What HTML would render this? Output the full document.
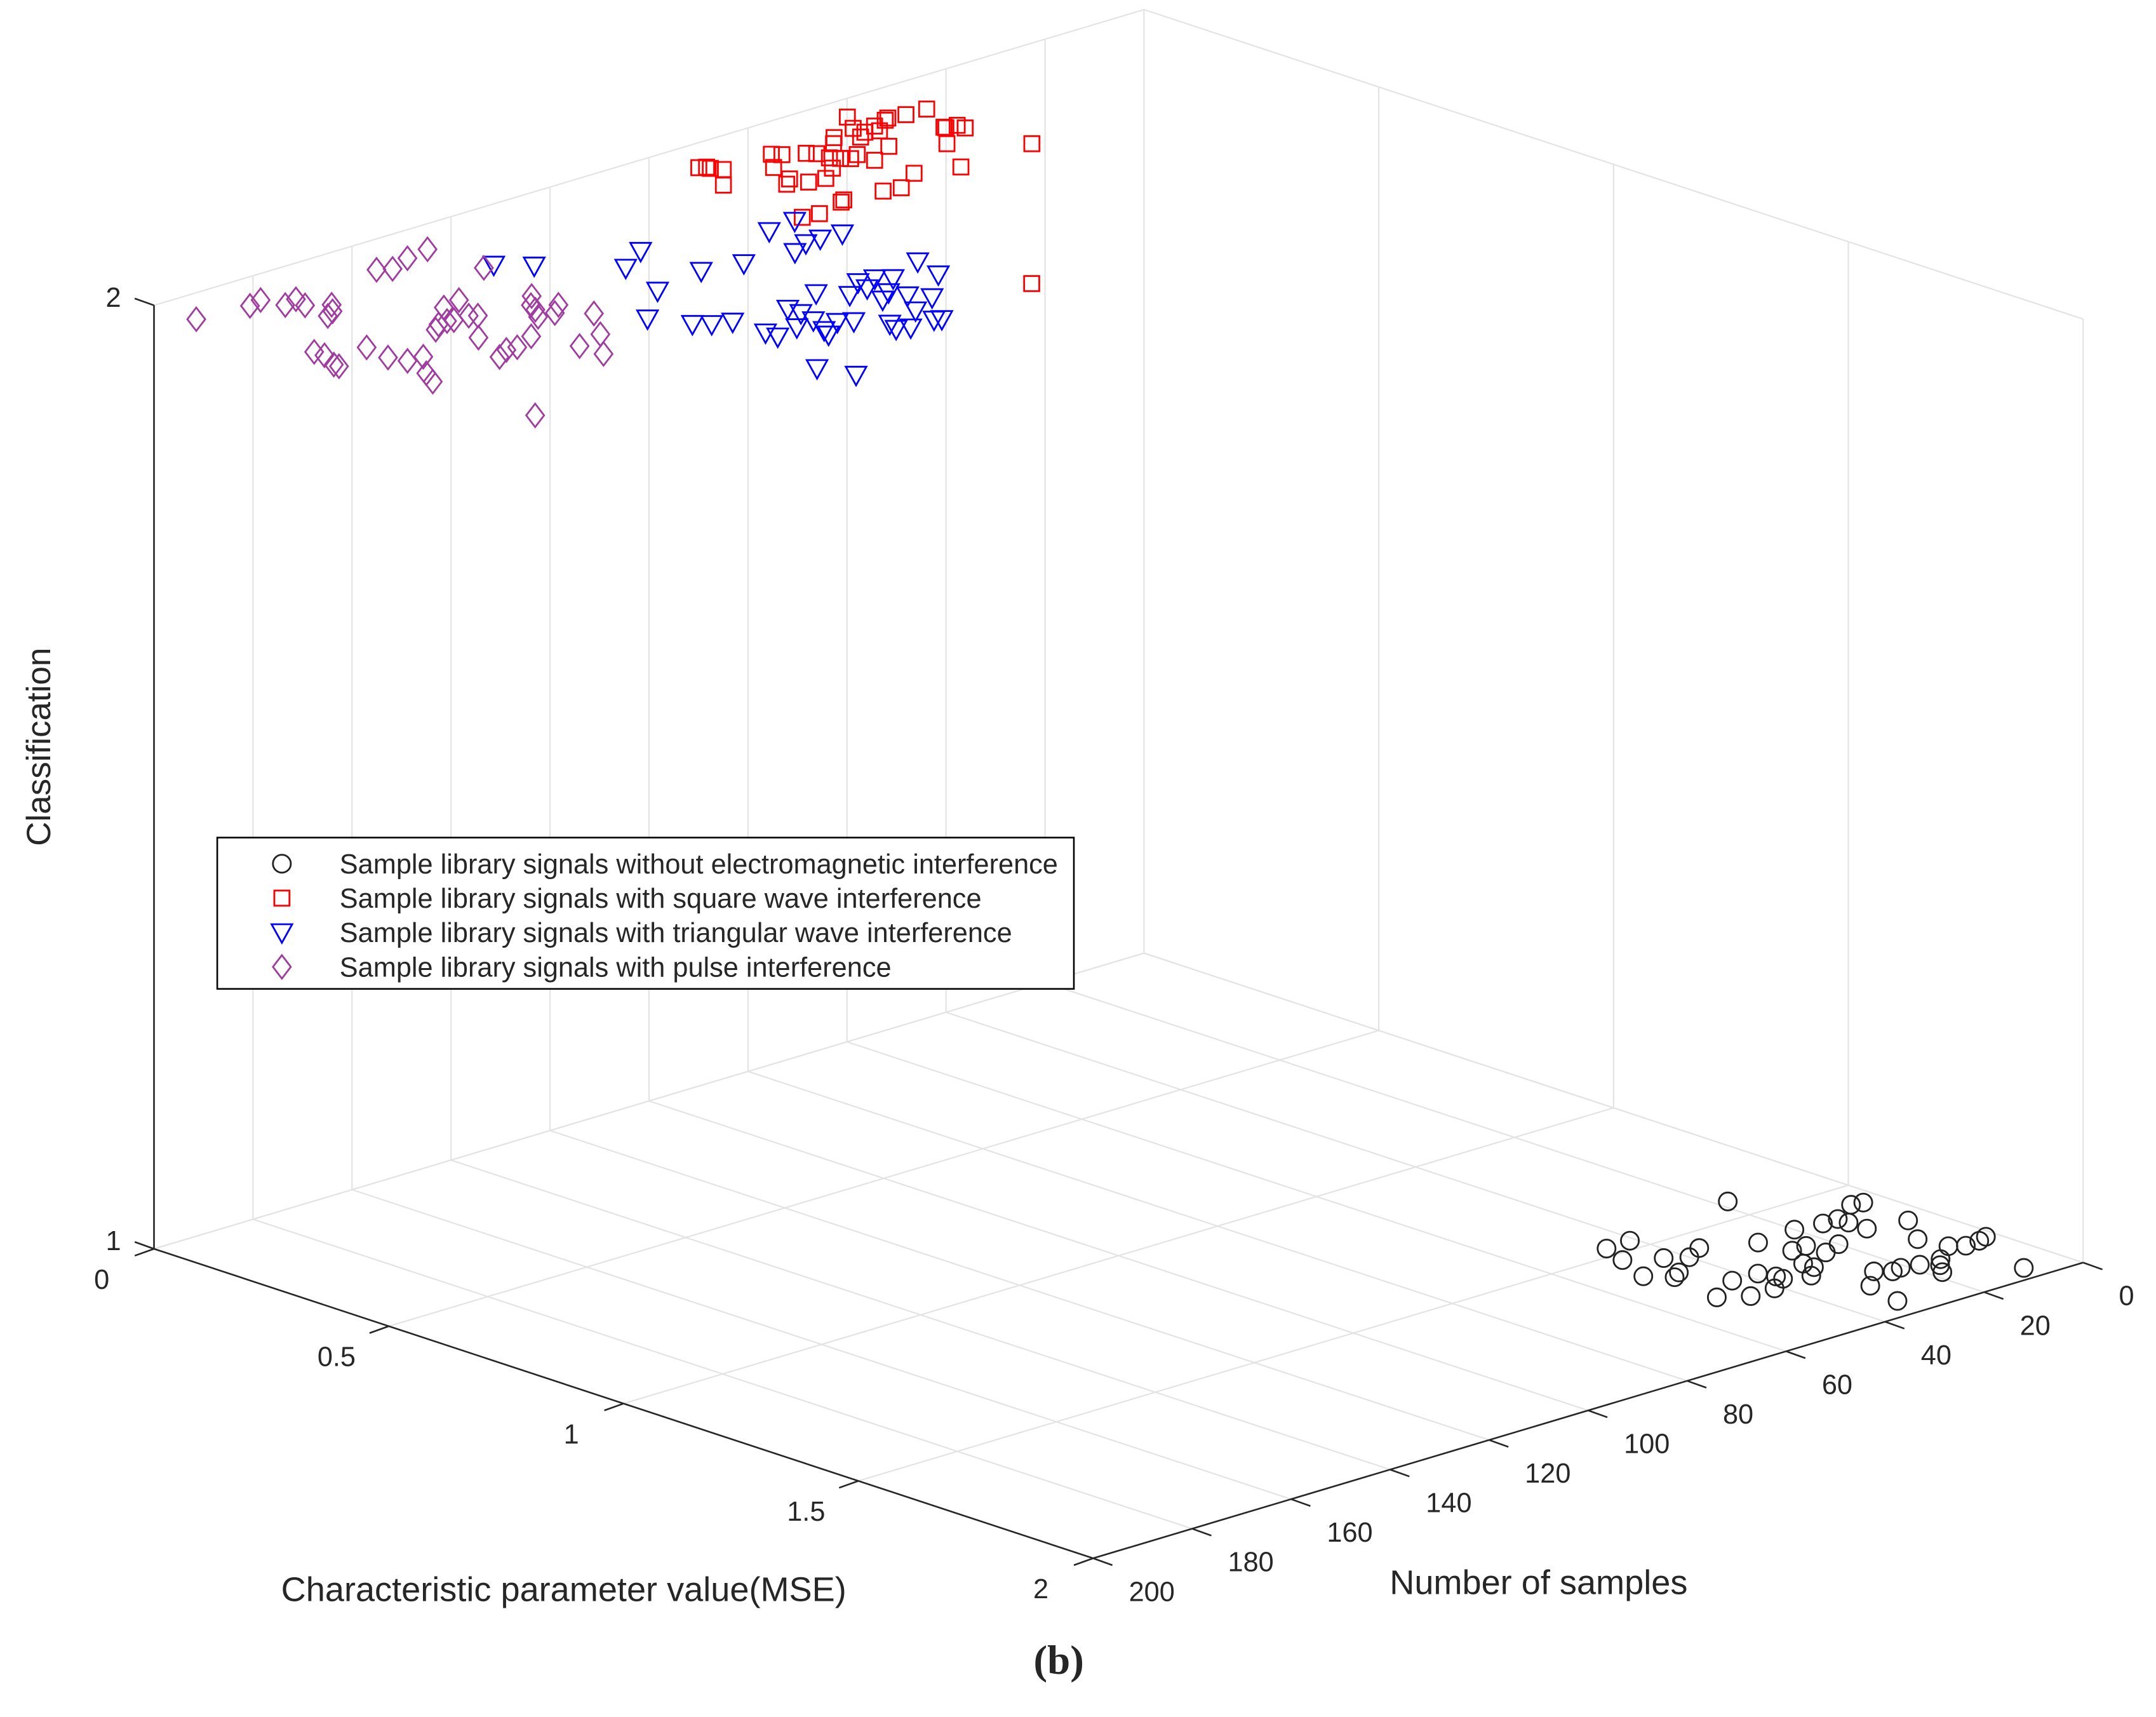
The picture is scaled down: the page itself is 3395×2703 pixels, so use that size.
<!DOCTYPE html>
<html><head><meta charset="utf-8"><title>3D scatter - classification</title>
<style>
html,body{margin:0;padding:0;background:#fff;}
svg{display:block;}
text{font-family:"Liberation Sans",Arial,sans-serif;fill:#262626;}
</style></head>
<body>
<svg id="chart" width="3395" height="2703" viewBox="0 0 1568 1248.4" xmlns="http://www.w3.org/2000/svg">
<rect x="0" y="0" width="1568" height="1248.4" fill="#fff"/>
<g id="grid"></g>
<g id="axes"></g>
<g id="marks"></g>
<text x="30" y="543" font-size="24.5" text-anchor="middle" transform="rotate(-90 30 543)" dominant-baseline="middle">Classification</text>
<text x="410" y="1164" font-size="25" text-anchor="middle">Characteristic parameter value(MSE)</text>
<text x="1119" y="1159" font-size="25" text-anchor="middle">Number of samples</text>
<text x="770" y="1217" font-size="30" font-weight="bold" text-anchor="middle" style="font-family:'Liberation Serif',serif">(b)</text>
<g id="legend">
<rect x="158" y="609" width="623" height="110" fill="#fff" stroke="#000" stroke-width="1.2"/>
</g>
</svg>
<script>
// ---- data (MSE, sample index, class) ----
const seriesNames = ["Sample library signals without electromagnetic interference","Sample library signals with square wave interference","Sample library signals with triangular wave interference","Sample library signals with pulse interference"];
const seriesClass = [1, 2, 2, 2];
const mseBlack = [1.470,1.467,1.525,1.601,1.560,1.636,1.624,1.583,1.562,1.747,1.433,1.706,1.777,1.708,1.603,1.775,1.736,1.751,1.665,1.596,1.720,1.663,1.769,1.743,1.604,1.705,1.604,1.690,1.569,1.627,1.574,1.666,1.863,1.818,1.837,1.942,1.833,1.680,1.753,1.842,1.864,1.844,1.808,1.890,1.824,1.821,1.814,1.958];
const nBlack = [46,41,48,51,43,48,46,40,36,50,18,43,46,38,28,41,37,37,27,20,30,24,33,30,15,24,12,20,6,12,4,12,30,25,23,32,21,5,10,18,16,14,9,18,7,4,2,8];
const mseRed = [0.341,0.815,0.220,0.348,0.203,0.200,0.196,0.255,0.117,0.115,0.108,0.113,0.133,0.122,0.145,0.208,0.120,0.140,0.157,0.145,0.125,0.113,0.160,0.215,0.245,0.250,0.222,0.341,0.346,0.363,0.358,0.351,0.358,0.322,0.238,0.201,0.205,0.085,0.091,0.099,0.116,0.169,0.230,0.064,0.184,0.197,0.108,0.143];
const nRed = [55,100,57,70,57,59,59,64,55,59,62,63,69,66,71,79,74,76,81,82,85,86,90,92,91,88,84,93,94,100,103,86,83,77,77,77,71,98,97,97,96,101,94,66,81,80,69,67];
const mseBlue = [0.207,0.251,0.351,0.309,0.461,0.438,0.455,0.372,0.363,0.469,0.450,0.449,0.454,0.545,0.609,0.629,0.642,0.712,0.654,0.682,0.719,0.630,0.783,0.749,0.670,0.763,0.635,0.665,0.639,0.657,0.730,0.625,0.690,0.761,0.789,0.839,0.845,0.832,0.808,0.842,0.885,0.947,0.738,0.726,0.763,0.700,0.719];
const nBlue = [151,147,138,131,142,131,124,111,105,115,111,108,104,152,149,147,144,144,134,134,135,126,138,133,123,131,118,119,115,113,117,105,107,115,121,122,121,129,128,127,150,148,144,139,137,118,121];
const msePurple = [0.090,0.099,0.090,0.132,0.123,0.153,0.178,0.212,0.201,0.320,0.342,0.383,0.394,0.358,0.414,0.445,0.447,0.506,0.541,0.105,0.118,0.087,0.301,0.368,0.353,0.350,0.291,0.354,0.354,0.363,0.438,0.525,0.508,0.510,0.487,0.381,0.351,0.401,0.428,0.432,0.408,0.473,0.550,0.620,0.569,0.207,0.759,0.097];
const nPurple = [200,190,187,186,183,184,181,185,183,198,198,200,200,191,192,191,188,193,195,165,163,153,170,178,176,174,166,173,170,169,176,180,177,175,170,160,157,161,163,160,157,156,162,168,168,153,195,158];
const mseTicks = [0, 0.5, 1, 1.5, 2];
const mseTickLabels = ["0","0.5","1","1.5","2"];
const nTicks = [0,20,40,60,80,100,120,140,160,180,200];
const nTickLabels = ["0","20","40","60","80","100","120","140","160","180","200"];
const classTicks = [1, 2];
const classTickLabels = ["1","2"];

// ---- projection ----
const NS = "http://www.w3.org/2000/svg";
function proj(m, n, c) {
  const v = 200 - n;
  return [112 + m * 341.5 + v * 3.6, 908 + m * 112.5 - v * 1.075 - (c - 1) * 686];
}
function mk(tag, attrs, parent) {
  const e = document.createElementNS(NS, tag);
  for (const k in attrs) e.setAttribute(k, attrs[k]);
  parent.appendChild(e);
  return e;
}
function line(p, q, stroke, w, parent) {
  return mk("line", {x1:p[0], y1:p[1], x2:q[0], y2:q[1], stroke:stroke, "stroke-width":w}, parent);
}
const grid = document.getElementById("grid");
const axes = document.getElementById("axes");
const marks = document.getElementById("marks");
const gc = "#e3e3e3";

nTicks.forEach(n => {
  const l = line(proj(0, n, 1), proj(0, n, 2), gc, 1, grid);
  
  
});
mseTicks.forEach(m => {
  const l = line(proj(m, 0, 1), proj(m, 0, 2), gc, 1, grid);
  
  
});
classTicks.forEach(c => {
  const a = line(proj(0, 200, c), proj(0, 0, c), gc, 1, grid);
  
  
  const b = line(proj(0, 0, c), proj(2, 0, c), gc, 1, grid);
  
  
});
mseTicks.forEach(m => {
  const l = line(proj(m, 200, 1), proj(m, 0, 1), gc, 1, grid);
  
  
});
nTicks.forEach(n => {
  const l = line(proj(0, n, 1), proj(2, n, 1), gc, 1, grid);
  
  
});

const ax = "#262626";
const zAxis = line(proj(0, 200, 1), proj(0, 200, 2), ax, 1.2, axes);


const xAxis = line(proj(0, 200, 1), proj(2, 200, 1), ax, 1.2, axes);


const yAxis = line(proj(2, 200, 1), proj(2, 0, 1), ax, 1.2, axes);



mseTicks.forEach((m, i) => {
  const p = proj(m, 200, 1);
  const t = line(p, [p[0] - 14, p[1] + 5], ax, 1.2, axes);
  
  
  const tx = mk("text", {x: p[0] - 38, y: p[1] + 29, "font-size": 20, "text-anchor": "middle"}, axes);
  tx.textContent = mseTickLabels[i];
  
  
});
nTicks.forEach((n, i) => {
  const p = proj(2, n, 1);
  const t = line(p, [p[0] + 14, p[1] + 5], ax, 1.2, axes);
  
  
  const tx = mk("text", {x: p[0] + 26, y: p[1] + 31, "font-size": 20, "text-anchor": "start"}, axes);
  tx.textContent = nTickLabels[i];
  
  
});
classTicks.forEach((c, i) => {
  const p = proj(0, 200, c);
  const t = line(p, [p[0] - 14, p[1] - 5], ax, 1.2, axes);
  
  
  const tx = mk("text", {x: p[0] - 24, y: p[1] + 1, "font-size": 20, "text-anchor": "end"}, axes);
  tx.textContent = classTickLabels[i];
  
  
});

function marker(kind, x, y, color, parent) {
  let e;
  if (kind === "circle") e = mk("circle", {cx:x, cy:y, r:6.5}, parent);
  else if (kind === "square") e = mk("rect", {x:x-5.5, y:y-5.5, width:11, height:11}, parent);
  else if (kind === "triangle") e = mk("polygon", {points:`${x-7.5},${y-6} ${x+7.5},${y-6} ${x},${y+7.5}`}, parent);
  else e = mk("polygon", {points:`${x},${y-8.5} ${x+6.5},${y} ${x},${y+8.5} ${x-6.5},${y}`}, parent);
  e.setAttribute("fill", "none");
  e.setAttribute("stroke", color);
  e.setAttribute("stroke-width", 1.3);
  return e;
}
const kinds = ["circle", "square", "triangle", "diamond"];
const colors = ["#222222", "#ff0000", "#0000ff", "#a03ca0"];
const mseSeries = [mseBlack, mseRed, mseBlue, msePurple];
const nSeries = [nBlack, nRed, nBlue, nPurple];
for (let s = 0; s < 4; s++) {
  const g = mk("g", {}, marks);
  
  
  for (let i = 0; i < mseSeries[s].length; i++) {
    const p = proj(mseSeries[s][i], nSeries[s][i], seriesClass[s]);
    const e = marker(kinds[s], p[0], p[1], colors[s], g);
    
    
  }
}

const legend = document.getElementById("legend");
const legY = [628, 653, 678, 703];
for (let s = 0; s < 4; s++) {
  const g = mk("g", {}, legend);
  
  
  const m = marker(kinds[s], 205, legY[s], colors[s], g);
  
  
  const t = mk("text", {x: 247, y: legY[s] + 7, "font-size": 20}, g);
  t.textContent = seriesNames[s];
  
  
}
</script>
</body></html>
